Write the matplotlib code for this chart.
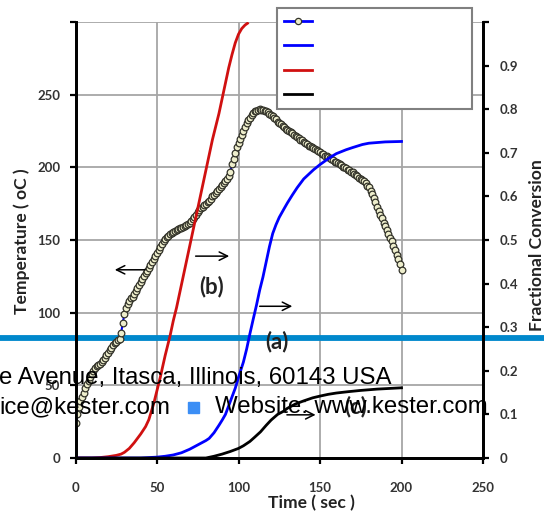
import numpy as np
import matplotlib.pyplot as plt
from matplotlib.lines import Line2D
from matplotlib.patches import Rectangle

W, H = 544, 512

# temperature profile (left axis), one reading per second
time_temp = np.arange(0, 201)
temp = [
    24, 30, 35, 39, 42, 45, 48, 51, 53, 56,
    58, 60, 62, 63, 64, 65, 66, 67.5, 69, 71,
    72.5, 74, 76, 77.5, 79, 80, 81, 82, 86, 93,
    99, 103, 106, 108, 110, 111, 113, 115, 117, 119,
    121, 123, 125, 127, 129, 131, 133, 135, 137, 139,
    141, 143, 145, 147, 149, 150.5, 152, 153, 154, 155,
    155.5, 156, 157, 157.5, 158, 158.5, 159, 159.5, 160.5, 161,
    162, 163, 164.5, 166, 167.5, 169, 170.5, 172, 173, 174,
    175, 176, 177, 178.5, 180, 181, 182.5, 184, 185, 186.5,
    188, 189, 190.5, 192, 194, 197, 202, 206, 210, 214,
    217, 219.5, 222, 225, 228, 230.5, 232.5, 234, 236, 237.5,
    238.5, 239, 239.5, 239.8, 239.7, 239.5, 239, 238.5, 238, 237,
    236, 235, 234, 233, 231.5, 230.5, 229.5, 228.5, 227.5, 226.5,
    225.5, 225, 224, 223.5, 222.5, 221.5, 221, 220, 219, 218.5,
    217.5, 217, 216, 215, 214.5, 214, 213, 212.5, 212, 211,
    210.5, 209.5, 209, 208, 207.5, 207, 206.5, 205.5, 205, 204,
    203.5, 203, 202, 201.5, 200.5, 200, 199.5, 198.5, 198, 197,
    196.5, 195.5, 195, 194, 193, 192, 191.5, 190.5, 189, 187.5,
    186.5, 184, 181.5, 179, 176, 173, 170, 167.5, 165, 162,
    159.5, 157, 154, 151.5, 149, 146, 143, 140, 137, 133.5,
    129.5,
]

# fractional conversion curves (right axis)
time_b = [0, 10, 15, 20, 25, 28, 30, 33, 36, 40, 43, 45, 48, 50, 52, 55, 58, 60,
          62, 64, 66, 68, 70, 72, 74, 76, 78, 80, 82, 84, 86, 88, 90, 92, 94, 96,
          98, 100, 102, 104, 105.5]
conv_b = [0, 0, 0.001, 0.003, 0.006, 0.009, 0.013, 0.022, 0.035, 0.055, 0.072,
          0.088, 0.125, 0.155, 0.185, 0.235, 0.28, 0.315, 0.345, 0.38, 0.415,
          0.45, 0.485, 0.52, 0.555, 0.59, 0.625, 0.66, 0.695, 0.73, 0.76, 0.79,
          0.825, 0.86, 0.895, 0.925, 0.952, 0.972, 0.985, 0.993, 0.997]

time_a = [0, 40, 45, 50, 55, 60, 65, 70, 75, 80, 82, 85, 88, 90, 92, 95, 98, 100,
          103, 105, 107, 109, 111, 113, 115, 117, 119, 121, 123, 125, 128, 130,
          133, 136, 140, 146, 150, 156, 160, 166, 170, 176, 180, 190, 200]
conv_a = [0, 0, 0.001, 0.002, 0.004, 0.007, 0.012, 0.02, 0.03, 0.04, 0.045,
          0.058, 0.075, 0.087, 0.1, 0.13, 0.16, 0.185, 0.22, 0.25, 0.285, 0.318,
          0.35, 0.385, 0.415, 0.45, 0.485, 0.515, 0.535, 0.552, 0.572, 0.585,
          0.603, 0.62, 0.64, 0.661, 0.673, 0.689, 0.698, 0.707, 0.712, 0.719,
          0.722, 0.725, 0.726]

time_c = [0, 80, 85, 90, 92.5, 95, 100, 103, 105, 107, 110, 113.5, 117, 120, 124,
          127.5, 130, 135, 140, 145.5, 150, 155, 160, 167, 175, 185, 200]
conv_c = [0, 0, 0.004, 0.009, 0.012, 0.015, 0.022, 0.028, 0.033, 0.038, 0.048,
          0.06, 0.075, 0.087, 0.1, 0.107, 0.114, 0.124, 0.131, 0.138, 0.142,
          0.146, 0.149, 0.152, 0.155, 0.158, 0.161]

fig = plt.figure(figsize=(W / 100, H / 100), dpi=100)
ax = fig.add_axes([75.5 / W, 1 - 458 / H, (483 - 75.5) / W, (458 - 22) / H])
ax2 = ax.twinx()
ax.set_zorder(1)
ax2.set_zorder(2)
ax2.patch.set_visible(False)

tick_font = dict(family='Lato', weight='bold', size=9.5, color='#333333')

ax.set_xlim(0, 250)
ax.set_ylim(0, 300)
ax2.set_ylim(0, 1)
ax.set_xticks(range(0, 251, 50))
ax.set_yticks(range(0, 301, 50))
ax.set_yticklabels([str(v) for v in range(0, 251, 50)] + [''])
ax2.set_yticks(np.arange(0, 1.01, 0.1))
ax2.set_yticklabels(['0'] + ['%.1f' % v for v in np.arange(0.1, 0.95, 0.1)] + [''])

ax.grid(True, color='#a6a6a6', lw=1.3)
ax.set_axisbelow(True)
for a in (ax, ax2):
    a.spines['top'].set_visible(False)
    for s in ('left', 'right', 'bottom'):
        a.spines[s].set_linewidth(2)
        a.spines[s].set_color('black')
ax.tick_params(axis='both', direction='out', length=4, width=1.6)
ax.tick_params(axis='x', pad=13)
ax.tick_params(axis='y', pad=7)
ax2.tick_params(axis='y', direction='out', length=4, width=1.6, pad=8)
for lab in ax.get_xticklabels() + ax.get_yticklabels() + ax2.get_yticklabels():
    lab.set(**tick_font)

# web page overlay bar (sits under the curves)
ax.plot([0, 1], [1 - 338 / H] * 2, transform=fig.transFigure, clip_on=False,
        color='#0088cc', lw=4.2, zorder=1)

# temperature with markers
ax.plot(time_temp, temp, color='#0000ff', lw=1.5, marker='o', ms=4.8,
        mfc='#eeeecc', mec='#33332a', mew=0.9, zorder=3)

ax2.plot(time_b, conv_b, color='#d01010', lw=2)
ax2.plot(time_a, conv_a, color='#0000ff', lw=2)
ax2.plot(time_c, conv_c, color='black', lw=2)

# arrows and curve labels
arrow = dict(arrowstyle='->', color='black', lw=1.1, mutation_scale=15)
ax2.annotate('', xy=(22.4, 129.5 / 300), xytext=(44.5, 129.5 / 300), arrowprops=arrow)
ax2.annotate('', xy=(96, 0.463), xytext=(72, 0.463), arrowprops=arrow)
ax2.annotate('', xy=(134.7, 0.348), xytext=(111.3, 0.348), arrowprops=arrow)
ax2.annotate('', xy=(149, 0.099), xytext=(128, 0.099), arrowprops=arrow)
lab_font = dict(family='Lato', weight='bold', size=16, color='#222222',
                ha='center', va='center')
ax2.text(83.7, 0.394, '(b)', **lab_font)
ax2.text(123.6, 0.267, '(a)', **lab_font)
ax2.text(172, 0.1175, '(c)', **lab_font)

# axis titles
title_font = dict(family='Lato', weight='bold', size=12.6, color='#222222',
                  ha='center', va='center')
fig.text(22 / W, 1 - 241 / H, 'Temperature ( oC )', rotation=90, **title_font)
fig.text(537 / W, 1 - 245 / H, 'Fractional Conversion', rotation=90, **title_font)
fig.text(311 / W, 1 - 503 / H, 'Time ( sec )', **title_font)

# legend (labels are blank in the source)
handles = [
    Line2D([], [], color='#0000ff', lw=2, marker='o', ms=4.5, mfc='#eeeecc',
           mec='#33332a', mew=0.9),
    Line2D([], [], color='#0000ff', lw=2),
    Line2D([], [], color='#d01010', lw=2),
    Line2D([], [], color='black', lw=2),
]
leg = fig.legend(handles, [' '] * 4, loc='upper left',
                 bbox_to_anchor=(277 / W, 1 - 106 / H, 195 / W, 98 / H),
                 mode='expand', borderaxespad=0, fontsize=10, labelspacing=0.74,
                 handlelength=2.0, borderpad=0.5, fancybox=False, framealpha=1,
                 edgecolor='#808080')
leg.get_frame().set_linewidth(1.5)
leg.set_zorder(5)

# web page overlay text
over = dict(family='Liberation Sans', size=17.3, color='black', va='baseline',
            zorder=10)
fig.text(-1 / W, 1 - 384 / H, 'e Avenue, Itasca, Illinois, 60143 USA', **over)
fig.text(-1 / W, 1 - 413 / H, 'ice@kester.com', **over)
fig.text(215 / W, 1 - 413 / H, 'Website: www.kester.com', **over)
fig.add_artist(Rectangle((187.5 / W, 1 - 413 / H), 11 / W, 11 / H,
                         transform=fig.transFigure, color='#3b8ef5', zorder=10))

fig.savefig('out.png', dpi=100)
